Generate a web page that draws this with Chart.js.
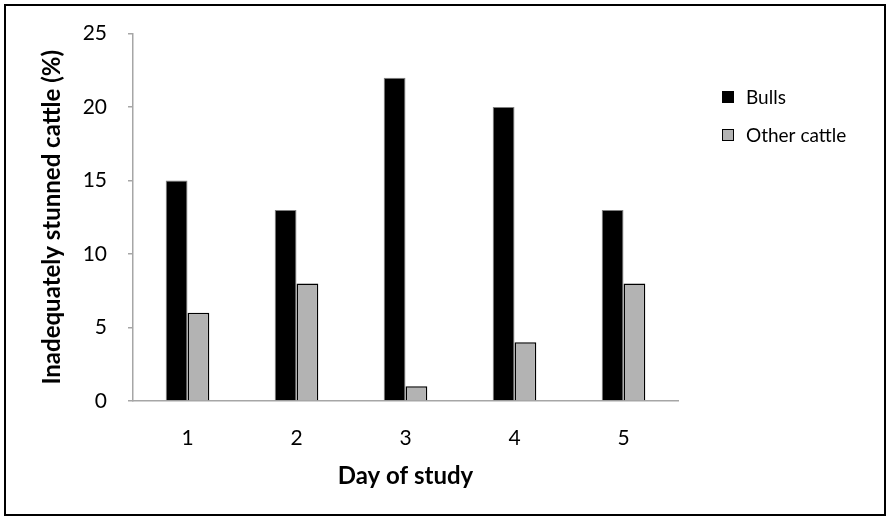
<!DOCTYPE html>
<html>
<head>
<meta charset="utf-8">
<script src="https://cdn.jsdelivr.net/npm/chart.js@4/dist/chart.umd.min.js"></script>
<style>
  html, body { margin: 0; padding: 0; background: #fff; }
  #wrap { position: relative; width: 891px; height: 523px; }
  canvas { display: block; }
</style>
</head>
<body>
<div id="wrap"><canvas id="c" width="891" height="523"></canvas></div>
<script>
// Study days and the share of cattle inadequately stunned on each day
const days = ['1', '2', '3', '4', '5'];
const bulls = [15, 13, 22, 20, 13];
const otherCattle = [6, 8, 1, 4, 8];
const seriesNames = ['Bulls', 'Other cattle'];
const yTicks = [0, 5, 10, 15, 20, 25];

const FONT = 'Lato, "Open Sans", sans-serif';

// Outer frame of the figure
const framePlugin = {
  id: 'frame',
  afterDraw(chart) {
    const ctx = chart.ctx;
    ctx.save();
    ctx.strokeStyle = '#000';
    ctx.lineWidth = 2;
    ctx.strokeRect(5, 5, 880, 510);
    ctx.restore();
  }
};

// Legend drawn beside the plot from the dataset labels and colours
const sideLegend = {
  id: 'sideLegend',
  afterDraw(chart) {
    const ctx = chart.ctx;
    const area = chart.chartArea;
    const x0 = area.right + 44;
    const rows = [97, 135];
    ctx.save();
    chart.data.datasets.forEach((ds, i) => {
      const cy = rows[i];
      ctx.fillStyle = ds.backgroundColor;
      ctx.fillRect(x0, cy - 6, 12, 12);
      ctx.strokeStyle = '#000';
      ctx.lineWidth = 1;
      ctx.strokeRect(x0 + 0.5, cy - 5.5, 11, 11);
      ctx.fillStyle = '#000';
      ctx.font = '19px ' + FONT;
      ctx.textBaseline = 'middle';
      ctx.textAlign = 'left';
      ctx.fillText(ds.label, x0 + 24, cy + 1);
    });
    ctx.restore();
  }
};

new Chart(document.getElementById('c'), {
  type: 'bar',
  data: {
    labels: days,
    datasets: [
      { label: seriesNames[0], data: bulls, backgroundColor: '#000000', borderColor: '#7f7f7f', borderWidth: 1 },
      { label: seriesNames[1], data: otherCattle, backgroundColor: '#b3b3b3', borderColor: '#000000', borderWidth: 1.5 }
    ]
  },
  options: {
    responsive: false,
    animation: false,
    devicePixelRatio: 1,
    layout: { padding: { left: 33, right: 213, top: 33, bottom: 32 } },
    datasets: { bar: { categoryPercentage: 0.4, barPercentage: 1.0, borderSkipped: 'bottom' } },
    plugins: { legend: { display: false }, tooltip: { enabled: false } },
    scales: {
      x: {
        grid: { display: false, drawTicks: false },
        border: { display: true, color: '#a6a6a6', width: 1.5 },
        ticks: { color: '#000', font: { family: FONT, size: 21 }, padding: 25 },
        title: { display: true, text: 'Day of study', color: '#000', font: { family: FONT, size: 24, weight: 'bold' }, padding: { top: 0, bottom: 0 } },
        afterFit(s) { s.height = 90; }
      },
      y: {
        min: 0, max: 25,
        afterBuildTicks(s) { s.ticks = yTicks.map(v => ({ value: v })); },
        grid: { drawOnChartArea: false, drawTicks: true, tickLength: 5, color: '#a6a6a6', lineWidth: 1.5 },
        border: { display: true, color: '#a6a6a6', width: 1.5 },
        ticks: { color: '#000', font: { family: FONT, size: 21 }, padding: 21 },
        title: { display: true, text: 'Inadequately stunned cattle (%)', color: '#000', font: { family: FONT, size: 24, weight: 'bold' }, padding: { top: 5, bottom: 0 } },
        afterFit(s) { s.width = 100; }
      }
    }
  },
  plugins: [framePlugin, sideLegend]
});
</script>
</body>
</html>
